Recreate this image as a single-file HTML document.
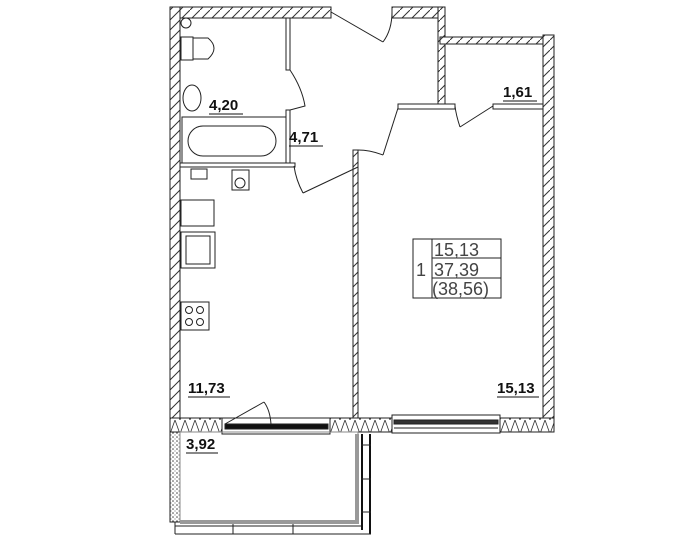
<!DOCTYPE html>
<html><head><meta charset="utf-8">
<style>html,body{margin:0;padding:0;background:#fff;}svg{display:block}</style>
</head><body>
<svg width="700" height="543" viewBox="0 0 700 543" xmlns="http://www.w3.org/2000/svg" font-family="Liberation Sans, sans-serif">
<defs>
<pattern id="h" width="10" height="10" patternUnits="userSpaceOnUse">
<rect width="10" height="10" fill="#fff"/>
<path d="M0,10 L10,0" stroke="#333" stroke-width="1"/>
</pattern>
<pattern id="v" width="10" height="14" patternUnits="userSpaceOnUse">
<rect width="10" height="14" fill="#fff"/>
<path d="M0,14 L5,0 L10,14" stroke="#333" stroke-width="0.8" fill="none"/>
</pattern>
<pattern id="d" width="4" height="4" patternUnits="userSpaceOnUse">
<rect width="4" height="4" fill="#fff"/>
<circle cx="1" cy="1" r="0.8" fill="#444"/><circle cx="3" cy="3" r="0.6" fill="#777"/>
</pattern>
</defs>
<g stroke="#222" stroke-width="1">
<rect x="170" y="7" width="161" height="11" fill="url(#h)"/>
<rect x="392" y="7" width="53" height="11" fill="url(#h)"/>
<rect x="438" y="7" width="7" height="100" fill="url(#h)"/>
<rect x="440" y="37" width="103" height="7" fill="url(#h)"/>
<rect x="543" y="35" width="11" height="397" fill="url(#h)"/>
<rect x="170" y="7" width="10" height="411" fill="url(#h)"/>
<rect x="170" y="418" width="52" height="14" fill="url(#v)"/>
<rect x="330" y="418" width="62" height="14" fill="url(#v)"/>
<rect x="500" y="418" width="54" height="14" fill="url(#v)"/>
<rect x="222" y="418" width="108" height="16" fill="#fff"/>
<rect x="225" y="424" width="103" height="5" fill="#111"/>
<rect x="392" y="415" width="108" height="18" fill="#fff"/>
<rect x="394" y="420" width="104" height="4" fill="#333"/>
<line x1="394" y1="428" x2="498" y2="428"/>
<rect x="286" y="18" width="4" height="52" fill="#fff"/>
<rect x="286" y="110" width="4" height="56" fill="#fff"/>
<rect x="180" y="163" width="115" height="4" fill="#fff"/>
<rect x="353" y="150" width="5" height="268" fill="url(#h)"/>
<rect x="398" y="104" width="57" height="5" fill="#fff"/>
<rect x="493" y="104" width="50" height="5" fill="#fff"/>
<g fill="none">
<line x1="331" y1="12" x2="383" y2="42"/><path d="M383,42 Q392,30 392,12"/>
<path d="M290,70 Q302,88 305,106 L290,110"/>
<line x1="358" y1="167" x2="303" y2="193"/><path d="M303,193 Q296,180 294,166"/>
<line x1="398" y1="108" x2="383" y2="155"/><path d="M383,155 Q370,150 358,150"/>
<line x1="493" y1="106" x2="460" y2="127"/><path d="M460,127 Q456,115 455,106"/>
<line x1="225" y1="424" x2="264" y2="402"/><path d="M264,402 Q270,410 271,424"/>
</g>
<rect x="170" y="432" width="10" height="90" fill="url(#d)"/>
<rect x="180" y="432" width="178" height="89" fill="none" stroke="#888"/>
<rect x="355" y="434" width="4" height="90" fill="#999" stroke="none"/>
<rect x="361" y="434" width="2" height="96" fill="#111" stroke="none"/>
<rect x="369" y="434" width="2" height="100" fill="#111" stroke="none"/>
<line x1="361" y1="445" x2="371" y2="445"/><line x1="361" y1="479" x2="371" y2="479"/><line x1="361" y1="512" x2="371" y2="512"/>
<rect x="180" y="520" width="178" height="4" fill="#999" stroke="none"/>
<line x1="175" y1="526" x2="361" y2="526"/><line x1="175" y1="534" x2="371" y2="534"/><line x1="175" y1="522" x2="175" y2="534"/>
<line x1="233" y1="524" x2="233" y2="534"/><line x1="293" y1="524" x2="293" y2="534"/>
<circle cx="186" cy="23" r="5" fill="none"/>
<rect x="181" y="37" width="12" height="23" fill="none"/>
<path d="M193,38 L208,38 Q220,48 208,59 L193,59 Z" fill="none"/>
<ellipse cx="192" cy="98" rx="9" ry="13" fill="none"/>
<rect x="182" y="117" width="104" height="46" fill="none"/>
<rect x="188" y="126" width="88" height="30" rx="15" fill="none"/>
<rect x="191" y="169" width="16" height="10" fill="none"/>
<rect x="232" y="170" width="17" height="20" fill="none"/>
<circle cx="240" cy="183" r="5" fill="none"/>
<rect x="181" y="200" width="33" height="26" fill="none"/>
<rect x="181" y="232" width="34" height="36" fill="none"/>
<rect x="186" y="236" width="24" height="28" fill="none"/>
<rect x="181" y="302" width="28" height="28" fill="none"/>
<circle cx="189" cy="310" r="3.5" fill="none"/><circle cx="200" cy="310" r="3.5" fill="none"/>
<circle cx="189" cy="322" r="3.5" fill="none"/><circle cx="200" cy="322" r="3.5" fill="none"/>
<rect x="413" y="239" width="88" height="59" fill="none"/>
<line x1="432" y1="239" x2="432" y2="298"/>
<line x1="432" y1="258" x2="501" y2="258"/>
<line x1="432" y1="278" x2="501" y2="278"/>
</g>
<g font-size="18" fill="#444">
<text x="434" y="256">15,13</text>
<text x="434" y="276">37,39</text>
<text x="432" y="295">(38,56)</text>
<text x="416" y="276">1</text>
</g>
<g font-size="15" font-weight="bold" fill="#111">
<text x="209" y="110">4,20</text>
<text x="289" y="142">4,71</text>
<text x="503" y="97">1,61</text>
<text x="188" y="393">11,73</text>
<text x="497" y="393">15,13</text>
<text x="186" y="449">3,92</text>
</g>
<g stroke="#111" stroke-width="1">
<line x1="209" y1="114" x2="243" y2="114"/>
<line x1="289" y1="146" x2="323" y2="146"/>
<line x1="503" y1="101" x2="537" y2="101"/>
<line x1="188" y1="397" x2="230" y2="397"/>
<line x1="497" y1="397" x2="539" y2="397"/>
<line x1="186" y1="453" x2="218" y2="453"/>
</g>
</svg>
</body></html>
